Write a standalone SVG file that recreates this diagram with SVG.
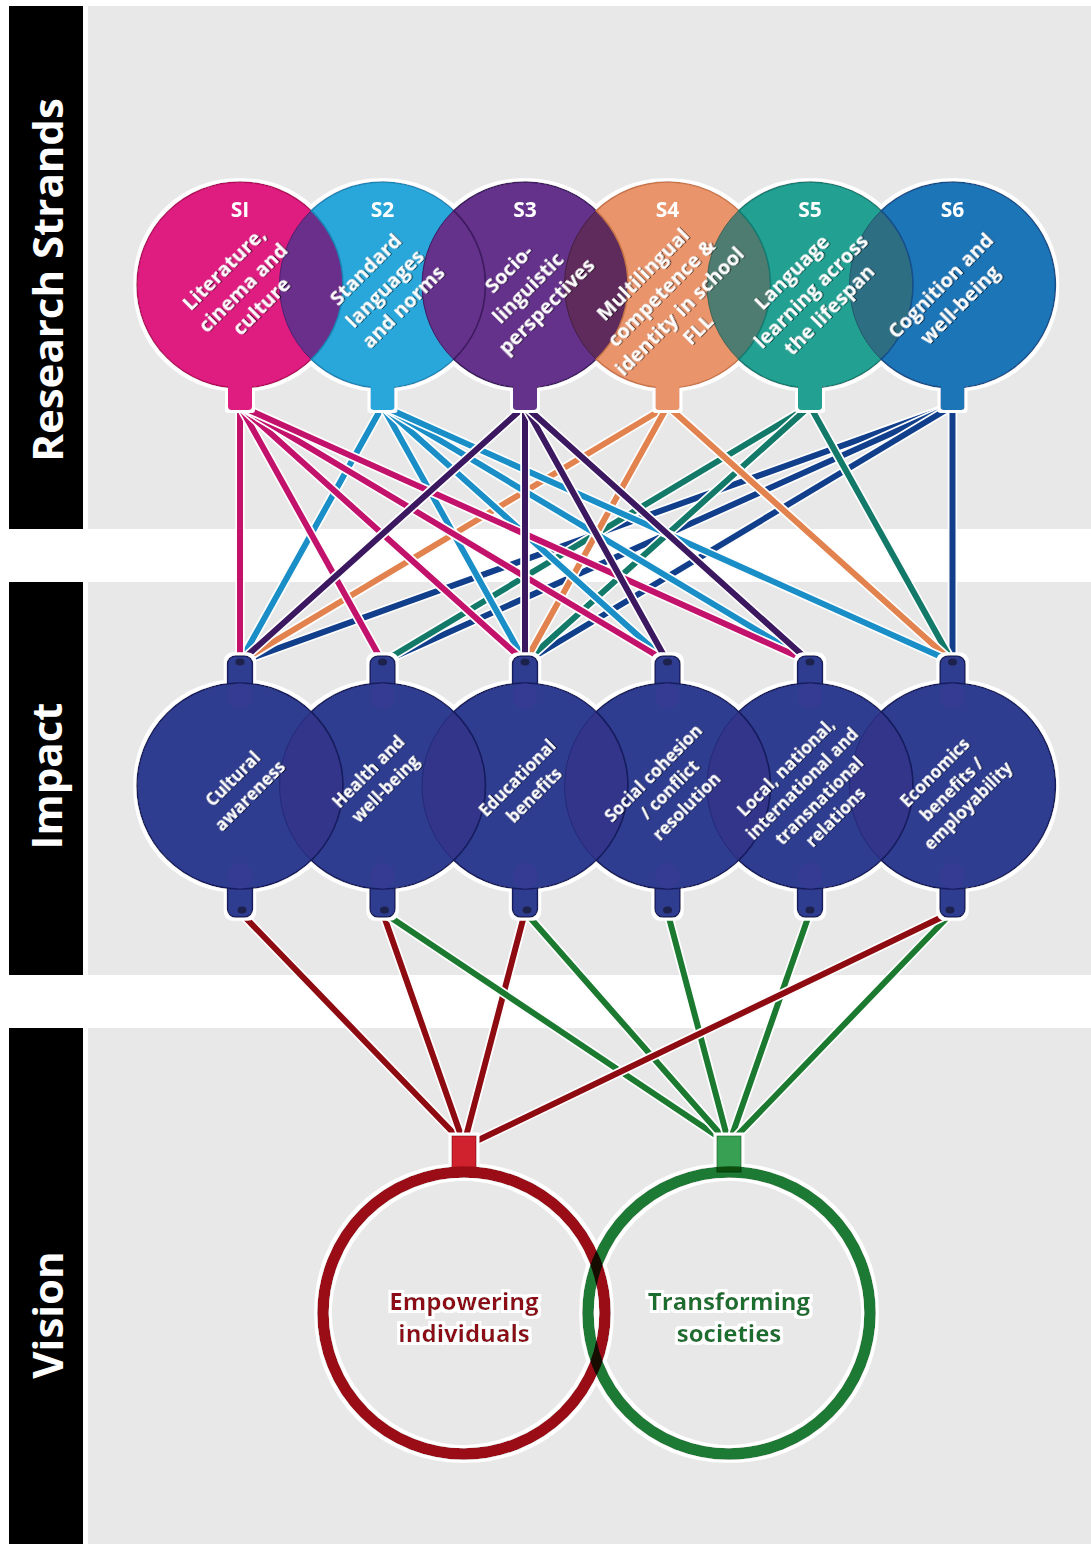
<svg xmlns="http://www.w3.org/2000/svg" width="1091" height="1544" viewBox="0 0 1091 1544">
<defs>
<style>
.panel{fill:#e7e8e7}
.bar{fill:#000}
.lbl{font-family:"Open Sans","Liberation Sans",sans-serif;font-weight:700;font-size:42px;fill:#fff;text-anchor:middle}
.h{stroke:#fff;stroke-width:9.5;stroke-linecap:round;fill:none}
.c{stroke-width:6;stroke-linecap:round;fill:none}
.l1{stroke:#c2126c}.l2{stroke:#1a8ec6}.l3{stroke:#3b1860}.l4{stroke:#e2834f}.l5{stroke:#137a69}.l6{stroke:#123f8b}
.lr{stroke:#8e0b12}.lg{stroke:#1c7a30}
.st{font-family:"Open Sans","Liberation Sans",sans-serif;font-weight:700;font-size:20px;fill:#fff;text-anchor:middle}
.sl{font-family:"Open Sans","Liberation Sans",sans-serif;font-weight:700;font-size:21px;fill:#fff;text-anchor:middle}
.it{font-family:"Open Sans","Liberation Sans",sans-serif;font-weight:700;font-size:17px;fill:#fff;text-anchor:middle}
.imp{fill:#2f3d90;stroke:#161b5c;stroke-width:1.5}
.stub{fill:#2f3d90;stroke:#161b5c;stroke-width:1.5}
.ilens{fill:#30348a;stroke:#262a78;stroke-width:1}
.oval{fill:#3b3a95;fill-opacity:0.55}
.dot{fill:#15152e;fill-opacity:0.7}
.vt{font-family:"Open Sans","Liberation Sans",sans-serif;font-weight:700;font-size:24px;text-anchor:middle}
</style>
<filter id="halo" x="-5%" y="-5%" width="110%" height="110%">
<feMorphology in="SourceAlpha" operator="dilate" radius="3" result="d"/>
<feFlood flood-color="#ffffff"/>
<feComposite in2="d" operator="in" result="w"/>
<feMerge><feMergeNode in="w"/><feMergeNode in="SourceGraphic"/></feMerge>
</filter>
<filter id="ts" x="-10%" y="-30%" width="120%" height="160%">
<feDropShadow dx="1" dy="1" stdDeviation="0.7" flood-color="#000" flood-opacity="0.65"/>
</filter>
</defs>

<rect x="0" y="0" width="1091" height="1544" fill="#ffffff"/>
<g id="bands">
<rect class="panel" x="88" y="6" width="1003" height="523"/>
<rect class="panel" x="88" y="582" width="1003" height="393"/>
<rect class="panel" x="88" y="1028" width="1003" height="516"/>
<rect class="bar" x="9" y="6" width="74" height="523"/>
<rect class="bar" x="9" y="582" width="74" height="393"/>
<rect class="bar" x="9" y="1028" width="74" height="516"/>
<text class="lbl" transform="translate(63,280) rotate(-90)">Research Strands</text>
<text class="lbl" transform="translate(62,776) rotate(-90)">Impact</text>
<text class="lbl" transform="translate(63,1315) rotate(-90)">Vision</text>
</g>

<g id="connectors">
<line class="h" x1="952.5" y1="406" x2="240" y2="662"/><line class="c l6" x1="952.5" y1="406" x2="240" y2="662"/>
<line class="h" x1="952.5" y1="406" x2="382.5" y2="662"/><line class="c l6" x1="952.5" y1="406" x2="382.5" y2="662"/>
<line class="h" x1="952.5" y1="406" x2="525" y2="662"/><line class="c l6" x1="952.5" y1="406" x2="525" y2="662"/>
<line class="h" x1="952.5" y1="406" x2="952.5" y2="662"/><line class="c l6" x1="952.5" y1="406" x2="952.5" y2="662"/>
<line class="h" x1="810" y1="406" x2="382.5" y2="662"/><line class="c l5" x1="810" y1="406" x2="382.5" y2="662"/>
<line class="h" x1="810" y1="406" x2="525" y2="662"/><line class="c l5" x1="810" y1="406" x2="525" y2="662"/>
<line class="h" x1="810" y1="406" x2="952.5" y2="662"/><line class="c l5" x1="810" y1="406" x2="952.5" y2="662"/>
<line class="h" x1="667.5" y1="406" x2="240" y2="662"/><line class="c l4" x1="667.5" y1="406" x2="240" y2="662"/>
<line class="h" x1="667.5" y1="406" x2="525" y2="662"/><line class="c l4" x1="667.5" y1="406" x2="525" y2="662"/>
<line class="h" x1="667.5" y1="406" x2="952.5" y2="662"/><line class="c l4" x1="667.5" y1="406" x2="952.5" y2="662"/>
<line class="h" x1="382.5" y1="406" x2="240" y2="662"/><line class="c l2" x1="382.5" y1="406" x2="240" y2="662"/>
<line class="h" x1="382.5" y1="406" x2="525" y2="662"/><line class="c l2" x1="382.5" y1="406" x2="525" y2="662"/>
<line class="h" x1="382.5" y1="406" x2="667.5" y2="662"/><line class="c l2" x1="382.5" y1="406" x2="667.5" y2="662"/>
<line class="h" x1="382.5" y1="406" x2="810" y2="662"/><line class="c l2" x1="382.5" y1="406" x2="810" y2="662"/>
<line class="h" x1="382.5" y1="406" x2="952.5" y2="662"/><line class="c l2" x1="382.5" y1="406" x2="952.5" y2="662"/>
<line class="h" x1="240" y1="406" x2="240" y2="662"/><line class="c l1" x1="240" y1="406" x2="240" y2="662"/>
<line class="h" x1="240" y1="406" x2="382.5" y2="662"/><line class="c l1" x1="240" y1="406" x2="382.5" y2="662"/>
<line class="h" x1="240" y1="406" x2="525" y2="662"/><line class="c l1" x1="240" y1="406" x2="525" y2="662"/>
<line class="h" x1="240" y1="406" x2="667.5" y2="662"/><line class="c l1" x1="240" y1="406" x2="667.5" y2="662"/>
<line class="h" x1="240" y1="406" x2="810" y2="662"/><line class="c l1" x1="240" y1="406" x2="810" y2="662"/>
<line class="h" x1="525" y1="406" x2="240" y2="662"/><line class="c l3" x1="525" y1="406" x2="240" y2="662"/>
<line class="h" x1="525" y1="406" x2="525" y2="662"/><line class="c l3" x1="525" y1="406" x2="525" y2="662"/>
<line class="h" x1="525" y1="406" x2="667.5" y2="662"/><line class="c l3" x1="525" y1="406" x2="667.5" y2="662"/>
<line class="h" x1="525" y1="406" x2="810" y2="662"/><line class="c l3" x1="525" y1="406" x2="810" y2="662"/>

<line class="h" x1="240" y1="912" x2="464" y2="1144"/><line class="c lr" x1="240" y1="912" x2="464" y2="1144"/>
<line class="h" x1="382.5" y1="912" x2="464" y2="1144"/><line class="c lr" x1="382.5" y1="912" x2="464" y2="1144"/>
<line class="h" x1="525" y1="912" x2="464" y2="1144"/><line class="c lr" x1="525" y1="912" x2="464" y2="1144"/>
<line class="h" x1="382.5" y1="912" x2="729" y2="1144"/><line class="c lg" x1="382.5" y1="912" x2="729" y2="1144"/>
<line class="h" x1="525" y1="912" x2="729" y2="1144"/><line class="c lg" x1="525" y1="912" x2="729" y2="1144"/>
<line class="h" x1="667.5" y1="912" x2="729" y2="1144"/><line class="c lg" x1="667.5" y1="912" x2="729" y2="1144"/>
<line class="h" x1="810" y1="912" x2="729" y2="1144"/><line class="c lg" x1="810" y1="912" x2="729" y2="1144"/>
<line class="h" x1="952.5" y1="912" x2="729" y2="1144"/><line class="c lg" x1="952.5" y1="912" x2="729" y2="1144"/>
<line class="h" x1="952.5" y1="912" x2="466" y2="1146"/><line class="c lr" x1="952.5" y1="912" x2="466" y2="1146"/>
</g>

<g id="strands" filter="url(#halo)">
<g id="s1">
<circle cx="240" cy="285" r="103" fill="#df1b80" stroke="#b3115f" stroke-width="1.5"/>
<path d="M311.25,210.62 A103,103 0 0 1 311.25,359.38 A103,103 0 0 1 311.25,210.62 Z" fill="#6b2f8b" stroke="#4f2070" stroke-width="1"/>
<rect x="228" y="380" width="24" height="30" rx="3" fill="#df1b80"/>
<text class="sl" x="240" y="217">SI</text>
<g class="st" transform="translate(240,285) rotate(-45)" filter="url(#ts)">
<text x="0" y="-16">Literature,</text><text x="0" y="10.5">cinema and</text><text x="0" y="37">culture</text>
</g>
</g>
<g id="s2">
<path d="M311.25,210.62 A103,103 0 1 1 311.25,359.38 A103,103 0 0 0 311.25,210.62 Z" fill="#29a7da" stroke="#1a85b5" stroke-width="1.5"/>
<path d="M453.75,210.62 A103,103 0 0 1 453.75,359.38 A103,103 0 0 1 453.75,210.62 Z" fill="#65308b" stroke="#3d1a5e" stroke-width="1"/>
<rect x="370.5" y="380" width="24" height="30" rx="3" fill="#29a7da"/>
<text class="sl" x="382.5" y="217">S2</text>
<g class="st" transform="translate(382.5,285) rotate(-45)" filter="url(#ts)">
<text x="-1" y="-16">Standard</text><text x="-1" y="10.5">languages</text><text x="-1" y="37">and norms</text>
</g>
</g>
<g id="s3">
<path d="M453.75,210.62 A103,103 0 1 1 453.75,359.38 A103,103 0 0 0 453.75,210.62 Z" fill="#65308b" stroke="#3d1a5e" stroke-width="1.5"/>
<path d="M596.25,210.62 A103,103 0 0 1 596.25,359.38 A103,103 0 0 1 596.25,210.62 Z" fill="#5f2c5b" stroke="#45203f" stroke-width="1"/>
<rect x="513" y="380" width="24" height="30" rx="3" fill="#65308b"/>
<text class="sl" x="525" y="217">S3</text>
<g class="st" transform="translate(525,285) rotate(-45)" filter="url(#ts)">
<text x="0" y="-16">Socio-</text><text x="0" y="10.5">linguistic</text><text x="0" y="37">perspectives</text>
</g>
</g>
<g id="s4">
<path d="M596.25,210.62 A103,103 0 1 1 596.25,359.38 A103,103 0 0 0 596.25,210.62 Z" fill="#e9946b" stroke="#c87448" stroke-width="1.5"/>
<path d="M738.75,210.62 A103,103 0 0 1 738.75,359.38 A103,103 0 0 1 738.75,210.62 Z" fill="#4f7c6f" stroke="#3d6357" stroke-width="1"/>
<rect x="655.5" y="380" width="24" height="30" rx="3" fill="#e9946b"/>
<text class="sl" x="667.5" y="217">S4</text>
<g class="st" transform="translate(667.5,285) rotate(-45)" filter="url(#ts)">
<text x="-10" y="-18">Multilingual</text><text x="-10" y="8">competence &amp;</text><text x="-10" y="34">identity in school</text><text x="-10" y="60">FLL</text>
</g>
</g>
<g id="s5">
<path d="M738.75,210.62 A103,103 0 1 1 738.75,359.38 A103,103 0 0 0 738.75,210.62 Z" fill="#20a193" stroke="#157a70" stroke-width="1.5"/>
<path d="M881.25,210.62 A103,103 0 0 1 881.25,359.38 A103,103 0 0 1 881.25,210.62 Z" fill="#2d6e83" stroke="#225a6b" stroke-width="1"/>
<rect x="798" y="380" width="24" height="30" rx="3" fill="#20a193"/>
<text class="sl" x="810" y="217">S5</text>
<g class="st" transform="translate(810,285) rotate(-45)" filter="url(#ts)">
<text x="-4" y="-15">Language</text><text x="-4" y="11.5">learning across</text><text x="-4" y="38">the lifespan</text>
</g>
</g>
<g id="s6">
<path d="M881.25,210.62 A103,103 0 1 1 881.25,359.38 A103,103 0 0 0 881.25,210.62 Z" fill="#1f74b6" stroke="#134f8a" stroke-width="1.5"/>
<rect x="940.5" y="380" width="24" height="30" rx="3" fill="#1f74b6"/>
<text class="sl" x="952.5" y="217">S6</text>
<g class="st" transform="translate(952.5,285) rotate(-45)" filter="url(#ts)">
<text x="-9" y="-1">Cognition and</text><text x="-9" y="25.5">well-being</text>
</g>
</g>
</g>

<g id="impacts" filter="url(#halo)">
<g id="i1">
<rect class="stub" x="227.5" y="656" width="25" height="52" rx="8"/>
<rect class="stub" x="227.5" y="864" width="25" height="53" rx="8"/>
<circle class="imp" cx="240" cy="786" r="103"/>
<path class="ilens" d="M311.25,711.62 A103,103 0 0 1 311.25,860.38 A103,103 0 0 1 311.25,711.62 Z"/>
<rect class="oval" x="228" y="683" width="24" height="26" rx="12"/>
<rect class="oval" x="228" y="863" width="24" height="26" rx="12"/>
<ellipse class="dot" cx="240" cy="662" rx="4.5" ry="3.5"/>
<ellipse class="dot" cx="242" cy="910" rx="4.5" ry="3.5"/>
<g class="it" transform="translate(240,786) rotate(-45)" filter="url(#ts)">
<text x="0" y="-4">Cultural</text><text x="0" y="19.5">awareness</text>
</g>
</g>
<g id="i2">
<rect class="stub" x="370" y="656" width="25" height="52" rx="8"/>
<rect class="stub" x="370" y="864" width="25" height="53" rx="8"/>
<path class="imp" d="M311.25,711.62 A103,103 0 1 1 311.25,860.38 A103,103 0 0 0 311.25,711.62 Z"/>
<path class="ilens" d="M453.75,711.62 A103,103 0 0 1 453.75,860.38 A103,103 0 0 1 453.75,711.62 Z"/>
<rect class="oval" x="370.5" y="683" width="24" height="26" rx="12"/>
<rect class="oval" x="370.5" y="863" width="24" height="26" rx="12"/>
<ellipse class="dot" cx="382.5" cy="662" rx="4.5" ry="3.5"/>
<ellipse class="dot" cx="384.5" cy="910" rx="4.5" ry="3.5"/>
<g class="it" transform="translate(382.5,786) rotate(-45)" filter="url(#ts)">
<text x="0" y="-14">Health and</text><text x="0" y="9.5">well-being</text>
</g>
</g>
<g id="i3">
<rect class="stub" x="512.5" y="656" width="25" height="52" rx="8"/>
<rect class="stub" x="512.5" y="864" width="25" height="53" rx="8"/>
<path class="imp" d="M453.75,711.62 A103,103 0 1 1 453.75,860.38 A103,103 0 0 0 453.75,711.62 Z"/>
<path class="ilens" d="M596.25,711.62 A103,103 0 0 1 596.25,860.38 A103,103 0 0 1 596.25,711.62 Z"/>
<rect class="oval" x="513" y="683" width="24" height="26" rx="12"/>
<rect class="oval" x="513" y="863" width="24" height="26" rx="12"/>
<ellipse class="dot" cx="525" cy="662" rx="4.5" ry="3.5"/>
<ellipse class="dot" cx="527" cy="910" rx="4.5" ry="3.5"/>
<g class="it" transform="translate(525,786) rotate(-45)" filter="url(#ts)">
<text x="0" y="-5.5">Educational</text><text x="0" y="18.5">benefits</text>
</g>
</g>
<g id="i4">
<rect class="stub" x="655" y="656" width="25" height="52" rx="8"/>
<rect class="stub" x="655" y="864" width="25" height="53" rx="8"/>
<path class="imp" d="M596.25,711.62 A103,103 0 1 1 596.25,860.38 A103,103 0 0 0 596.25,711.62 Z"/>
<path class="ilens" d="M738.75,711.62 A103,103 0 0 1 738.75,860.38 A103,103 0 0 1 738.75,711.62 Z"/>
<rect class="oval" x="655.5" y="683" width="24" height="26" rx="12"/>
<rect class="oval" x="655.5" y="863" width="24" height="26" rx="12"/>
<ellipse class="dot" cx="667.5" cy="662" rx="4.5" ry="3.5"/>
<ellipse class="dot" cx="667.5" cy="910" rx="4.5" ry="3.5"/>
<g class="it" transform="translate(667.5,786) rotate(-45)" filter="url(#ts)">
<text x="-1" y="-13.5">Social cohesion</text><text x="-1" y="10">/ conflict</text><text x="-1" y="33.5">resolution</text>
</g>
</g>
<g id="i5">
<rect class="stub" x="797.5" y="656" width="25" height="52" rx="8"/>
<rect class="stub" x="797.5" y="864" width="25" height="53" rx="8"/>
<path class="imp" d="M738.75,711.62 A103,103 0 1 1 738.75,860.38 A103,103 0 0 0 738.75,711.62 Z"/>
<path class="ilens" d="M881.25,711.62 A103,103 0 0 1 881.25,860.38 A103,103 0 0 1 881.25,711.62 Z"/>
<rect class="oval" x="798" y="683" width="24" height="26" rx="12"/>
<rect class="oval" x="798" y="863" width="24" height="26" rx="12"/>
<ellipse class="dot" cx="810" cy="662" rx="4.5" ry="3.5"/>
<ellipse class="dot" cx="810" cy="910" rx="4.5" ry="3.5"/>
<g class="it" transform="translate(810,786) rotate(-45)" filter="url(#ts)">
<text x="-4" y="-24.5">Local, national,</text><text x="-4" y="-1">international and</text><text x="-4" y="22.5">transnational</text><text x="-4" y="46">relations</text>
</g>
</g>
<g id="i6">
<rect class="stub" x="940" y="656" width="25" height="52" rx="8"/>
<rect class="stub" x="940" y="864" width="25" height="53" rx="8"/>
<path class="imp" d="M881.25,711.62 A103,103 0 1 1 881.25,860.38 A103,103 0 0 0 881.25,711.62 Z"/>
<rect class="oval" x="940.5" y="683" width="24" height="26" rx="12"/>
<rect class="oval" x="940.5" y="863" width="24" height="26" rx="12"/>
<ellipse class="dot" cx="952.5" cy="662" rx="4.5" ry="3.5"/>
<ellipse class="dot" cx="950" cy="910" rx="4.5" ry="3.5"/>
<g class="it" transform="translate(952.5,786) rotate(-45)" filter="url(#ts)">
<text x="-3" y="-16">Economics</text><text x="-3" y="7.5">benefits /</text><text x="-3" y="31">employability</text>
</g>
</g>
</g>

<g id="visions" filter="url(#halo)">
<g id="v1">
<rect x="452" y="1136" width="24" height="36" fill="#d0202e" stroke="#9a0f18" stroke-width="1"/>
<circle cx="464" cy="1313" r="141" fill="none" stroke="#9a0f18" stroke-width="11.5"/>
<text class="vt" x="464" y="1310" fill="#8c0c14">Empowering</text>
<text class="vt" x="464" y="1342" fill="#8c0c14">individuals</text>
</g>
<g id="v2">
<rect x="717" y="1136" width="24" height="36" fill="#38a052" stroke="#1f7a35" stroke-width="1"/>
<circle cx="729" cy="1313" r="141" fill="none" stroke="#1f7a35" stroke-width="11.5" style="mix-blend-mode:multiply"/>
<text class="vt" x="729" y="1310" fill="#1a6e2e">Transforming</text>
<text class="vt" x="729" y="1342" fill="#1a6e2e">societies</text>
</g>
</g>
</svg>
